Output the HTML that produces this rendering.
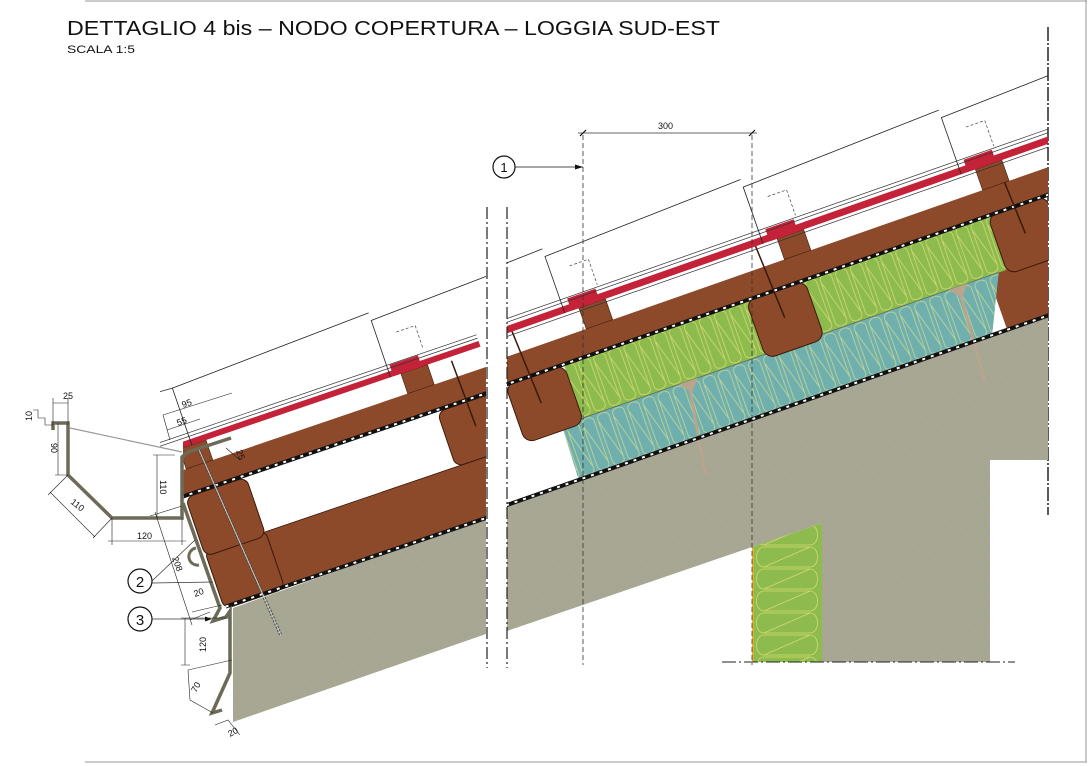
<!DOCTYPE html>
<html><head><meta charset="utf-8"><style>
html,body{margin:0;padding:0;background:#fff;}
svg{display:block;}
text{font-family:"Liberation Sans",sans-serif;fill:#111;}
</style></head><body>
<svg width="1092" height="766" viewBox="0 0 1092 766" xmlns="http://www.w3.org/2000/svg">
<defs>
<pattern id="insT" patternUnits="userSpaceOnUse" width="16" height="57" x="0" y="-57">
<path d="M2,6 C2,0 14,0 14,6 L14,51 C14,57 2,57 2,51 Z M2,8 L14,49" fill="none" stroke="#dede8a" stroke-width="0.8" opacity="0.8"/>
</pattern>
<pattern id="insG" patternUnits="userSpaceOnUse" width="16" height="57" x="0" y="-114">
<path d="M2,6 C2,0 14,0 14,6 L14,51 C14,57 2,57 2,51 Z M2,8 L14,49" fill="none" stroke="#e3e07a" stroke-width="0.8" opacity="0.8"/>
</pattern>
<pattern id="insW" patternUnits="userSpaceOnUse" width="70" height="22" x="752" y="524">
<path d="M12,1 C2,1 2,21 12,21 L58,21 C68,21 68,1 58,1 Z M12,21 L58,1" fill="none" stroke="#d8d870" stroke-width="0.8"/>
</pattern>
<pattern id="hatch" patternUnits="userSpaceOnUse" width="8" height="8" patternTransform="rotate(-35)">
<line x1="0" y1="0" x2="0" y2="8" stroke="#9a998a" stroke-width="0.6"/>
</pattern>
<clipPath id="cr"><rect x="507" y="0" width="541" height="766"/></clipPath>
<clipPath id="cl"><rect x="183" y="0" width="303" height="766"/></clipPath>
<clipPath id="cl2"><rect x="160" y="0" width="326" height="766"/></clipPath>
</defs>

<!-- frame -->
<line x1="85" y1="1" x2="1087" y2="1" stroke="#999" stroke-width="1"/>
<line x1="85" y1="762" x2="1087" y2="762" stroke="#999" stroke-width="1"/>
<line x1="1086" y1="0" x2="1086" y2="762" stroke="#999" stroke-width="1"/>
<line x1="1048" y1="27" x2="1048" y2="515" stroke="#222" stroke-width="1.5" stroke-dasharray="14,2,2,2"/>

<!-- title -->
<text x="67" y="35" font-size="20" textLength="653" lengthAdjust="spacingAndGlyphs">DETTAGLIO 4 bis – NODO COPERTURA – LOGGIA SUD-EST</text>
<text x="67" y="53" font-size="11" textLength="68" lengthAdjust="spacingAndGlyphs">SCALA 1:5</text>

<!-- RIGHT gray mass -->
<polygon points="507,505 1048,316 1048,460 990,460 990,662 822,662 822,523 752,547 507,631" fill="#a7a794"/>
<polygon points="507,505 1048,316 1048,460 990,460 990,662 822,662 822,523 752,547 507,631" fill="url(#hatch)" opacity="0.5"/>
<polygon points="752,547 822,523 822,662 752,662" fill="#8dbb4d"/>
<polygon points="752,547 822,523 822,662 752,662" fill="url(#insW)"/>
<line x1="753" y1="547" x2="753" y2="662" stroke="#e0b030" stroke-width="2"/>
<line x1="722" y1="662" x2="1015" y2="662" stroke="#222" stroke-width="1" stroke-dasharray="14,3,2,3"/>

<!-- RIGHT roof -->
<g clip-path="url(#cr)">
<g transform="translate(507,505) rotate(-19.3)">
<rect x="530" y="-57" width="300" height="57" fill="#8c4a2a"/>
<polygon points="76,0 78,-57 541,-57 514,0" fill="#6fb0ae"/>
<polygon points="76,0 78,-57 541,-57 514,0" fill="url(#insT)"/>
<rect x="100" y="-114" width="460" height="57" fill="#8dbb4d"/>
<rect x="100" y="-114" width="460" height="57" fill="url(#insG)"/>
<line x1="78" y1="-57" x2="541" y2="-57" stroke="#555" stroke-width="0.6"/>
<line x1="212" y1="-55" x2="197" y2="37" stroke="#b9a48e" stroke-width="3"/>
<polygon points="202,-57 222,-57 212,-45" fill="#b9a48e"/>
<line x1="498" y1="-55" x2="492" y2="40" stroke="#b9a48e" stroke-width="3"/>
<polygon points="488,-57 508,-57 498,-45" fill="#b9a48e"/>
<rect x="38" y="-114" width="62" height="62" rx="10" fill="#8c4a2a" stroke="#3a1a0a" stroke-width="1"/>
<rect x="293" y="-114" width="62" height="62" rx="10" fill="#8c4a2a" stroke="#3a1a0a" stroke-width="1"/>
<rect x="549" y="-114" width="62" height="62" rx="10" fill="#8c4a2a" stroke="#3a1a0a" stroke-width="1"/>
<rect x="-100" y="-140" width="900" height="26" fill="#8c4a2a"/>
<line x1="-100" y1="0" x2="800" y2="0" stroke="#111" stroke-width="4"/>
<line x1="-100" y1="0" x2="800" y2="0" stroke="#fff" stroke-width="2" stroke-dasharray="3,6"/>
<line x1="-100" y1="-114" x2="800" y2="-114" stroke="#111" stroke-width="4"/>
<line x1="-100" y1="-114" x2="800" y2="-114" stroke="#fff" stroke-width="2" stroke-dasharray="3,6"/>
<line x1="62" y1="-165" x2="66" y2="-85" stroke="#3a1a0a" stroke-width="1.5"/>
<line x1="320" y1="-165" x2="324" y2="-85" stroke="#3a1a0a" stroke-width="1.5"/>
<line x1="575" y1="-165" x2="579" y2="-85" stroke="#3a1a0a" stroke-width="1.5"/>
<rect x="-77" y="-162" width="28" height="22" fill="#8c4a2a" stroke="#3a1a0a" stroke-width="0.6"/>
<rect x="133" y="-162" width="28" height="22" fill="#8c4a2a" stroke="#3a1a0a" stroke-width="0.6"/>
<rect x="343" y="-162" width="28" height="22" fill="#8c4a2a" stroke="#3a1a0a" stroke-width="0.6"/>
<rect x="553" y="-162" width="28" height="22" fill="#8c4a2a" stroke="#3a1a0a" stroke-width="0.6"/>
<rect x="-100" y="-169" width="900" height="7" fill="#c42238"/>
<rect x="-85" y="-175" width="30" height="13" fill="#c42238"/>
<rect x="125" y="-175" width="30" height="13" fill="#c42238"/>
<rect x="335" y="-175" width="30" height="13" fill="#c42238"/>
<rect x="545" y="-175" width="30" height="13" fill="#c42238"/>
<line x1="-100" y1="-172.5" x2="800" y2="-172.5" stroke="#333" stroke-width="0.7"/>
<line x1="-100" y1="-176" x2="800" y2="-176" stroke="#333" stroke-width="0.7"/>
<line x1="-100" y1="-159" x2="800" y2="-159" stroke="#333" stroke-width="0.7"/>
<g fill="none" stroke="#222" stroke-width="0.8">
<path d="M-92,-162 L-92,-222 L118,-230"/>
<path d="M118,-162 L118,-222 L328,-230"/>
<path d="M328,-162 L328,-222 L538,-230"/>
<path d="M538,-162 L538,-222 L748,-230"/>
</g>
<g fill="none" stroke="#444" stroke-width="0.7" stroke-dasharray="3,2">
<path d="M-72,-205 L-52,-205 L-52,-178"/>
<path d="M138,-205 L158,-205 L158,-178"/>
<path d="M348,-205 L368,-205 L368,-178"/>
<path d="M558,-205 L578,-205 L578,-178"/>
</g>
</g>
</g>

<!-- LEFT gray -->
<polygon points="233,608 486,518 486,634 233,722" fill="#a7a794"/>
<polygon points="233,608 486,518 486,634 233,722" fill="url(#hatch)" opacity="0.5"/>

<!-- LEFT roof -->
<g clip-path="url(#cl)">
<g transform="translate(486,518) rotate(-18.8)">
<rect x="-215" y="-58" width="265" height="58" fill="#8c4a2a" stroke="#3a1a0a" stroke-width="0.8"/>
<rect x="-277" y="-60" width="64" height="62" rx="8" fill="#8c4a2a" stroke="#3a1a0a" stroke-width="1"/>
<rect x="-278" y="-116" width="64" height="62" rx="8" fill="#8c4a2a" stroke="#3a1a0a" stroke-width="1"/>
<rect x="-12" y="-116" width="60" height="58" rx="8" fill="#8c4a2a" stroke="#3a1a0a" stroke-width="1"/>
<rect x="-310" y="-143" width="360" height="25" fill="#8c4a2a"/>
<line x1="-275" y1="0" x2="50" y2="0" stroke="#111" stroke-width="4"/>
<line x1="-275" y1="0" x2="50" y2="0" stroke="#fff" stroke-width="2" stroke-dasharray="3,6"/>
<line x1="-300" y1="-118" x2="50" y2="-118" stroke="#111" stroke-width="4"/>
<line x1="-300" y1="-118" x2="50" y2="-118" stroke="#fff" stroke-width="2" stroke-dasharray="3,6"/>
<rect x="-268" y="-164" width="28" height="21" fill="#8c4a2a" stroke="#3a1a0a" stroke-width="0.6"/>
<rect x="-34" y="-164" width="28" height="21" fill="#8c4a2a" stroke="#3a1a0a" stroke-width="0.6"/>
<rect x="-310" y="-170" width="360" height="6" fill="#c42238"/>
<rect x="-42" y="-176" width="30" height="12" fill="#c42238"/>
<line x1="-250" y1="-160" x2="-232" y2="45" stroke="#444" stroke-width="3" stroke-dasharray="2,1.5"/>
<line x1="-250" y1="-160" x2="-232" y2="45" stroke="#ccc" stroke-width="1"/>
<line x1="18" y1="-160" x2="20" y2="-90" stroke="#3a1a0a" stroke-width="1.5"/>
</g>
</g>
<g clip-path="url(#cl2)">
<g transform="translate(486,518) rotate(-18.8)">
<line x1="-320" y1="-173" x2="50" y2="-173" stroke="#333" stroke-width="0.7"/>
<line x1="-320" y1="-176.5" x2="50" y2="-176.5" stroke="#333" stroke-width="0.7"/>
<g fill="none" stroke="#222" stroke-width="0.8">
<path d="M-255,-164 L-255,-224 L-45,-232"/>
<path d="M-45,-164 L-45,-224 L165,-232"/>
<path d="M-330,-228 L-255,-224"/>
</g>
<path d="M-25,-205 L-5,-205 L-5,-180" fill="none" stroke="#444" stroke-width="0.7" stroke-dasharray="3,2"/>
</g>
</g>

<!-- section break lines -->
<line x1="487" y1="207" x2="487" y2="668" stroke="#222" stroke-width="1.2" stroke-dasharray="12,3,2,3"/>
<line x1="507" y1="207" x2="507" y2="668" stroke="#222" stroke-width="1.2" stroke-dasharray="12,3,2,3"/>

<!-- 300 dim & callout 1 -->
<line x1="583" y1="135" x2="583" y2="665" stroke="#333" stroke-width="0.8" stroke-dasharray="5,3"/>
<line x1="752" y1="135" x2="752" y2="665" stroke="#333" stroke-width="0.8" stroke-dasharray="5,3"/>
<line x1="578" y1="133" x2="757" y2="133" stroke="#333" stroke-width="0.8"/>
<line x1="580" y1="136" x2="586" y2="130" stroke="#111" stroke-width="1.2"/>
<line x1="749" y1="136" x2="755" y2="130" stroke="#111" stroke-width="1.2"/>
<text x="658" y="129" font-size="9">300</text>
<circle cx="504" cy="167" r="11" fill="#fff" stroke="#111" stroke-width="1.2"/>
<text x="504" y="172" font-size="13" text-anchor="middle">1</text>
<line x1="515" y1="167" x2="583" y2="167" stroke="#111" stroke-width="0.8"/>
<polygon points="583,167 575,164.5 575,169.5" fill="#111"/>

<!-- gutter -->
<g fill="none" stroke="#6d6b57" stroke-width="3.5" stroke-linejoin="miter">
<path d="M53,430 L53,423 L68,423 L68,475 L112,518 L182,518 L182,457 L188,452 L231,438"/>
<path d="M183,503 L220,608 L213,621 L226,617 L230,611 L230,673 L212,713 L222,710"/>
</g>
<path d="M196,548 A8,8 0 0 0 199,565" fill="none" stroke="#6d6b57" stroke-width="3"/>
<line x1="70" y1="428" x2="182" y2="452" stroke="#999" stroke-width="1.2"/>

<!-- dims left -->
<g stroke="#222" stroke-width="0.6" fill="none">
<path d="M53,403 L68,403 M53,398 L53,425 M68,398 L68,425"/>
<path d="M38,418 L45,418 L45,425 L53,425 M33,410 L38,410 L38,418"/>
<path d="M58,423 L58,475 M55,475 L68,475"/>
<path d="M157,455 L157,518 M153,455 L175,455"/>
<path d="M112,518 L112,545 M182,518 L182,545 M108,541 L186,541"/>
<path d="M50,492 L95,537 M68,475 L48,495 M112,518 L93,538"/>
<path d="M155,512 L192,625 M182,506 L150,516 M210,612 L190,620"/>
<path d="M163,415 L232,393 M167,430 L200,419 M170,440 L163,415"/>
<path d="M192,612 L222,605 M185,618 L185,665 M181,618 L230,618 M181,665 L190,665"/>
<path d="M188,670 L232,660 M188,670 L190,700 M190,700 L213,713"/>
<path d="M215,725 L228,720 L240,735"/>
<path d="M226,448 L240,460"/>
</g>
<text font-size="9" x="63" y="399">25</text>
<text font-size="9" transform="translate(32,421) rotate(-90)">10</text>
<text font-size="9" transform="translate(51,443) rotate(90)">90</text>
<text font-size="9" transform="translate(160,480) rotate(90)">110</text>
<text font-size="9" transform="translate(70,503) rotate(38)">110</text>
<text font-size="9" x="137" y="539">120</text>
<text font-size="9" transform="translate(183,408) rotate(-20)">95</text>
<text font-size="9" transform="translate(178,426) rotate(-20)">55</text>
<text font-size="9" transform="translate(236,451) rotate(70)">25</text>
<text font-size="9" transform="translate(172,558) rotate(70)">208</text>
<text font-size="9" transform="translate(195,597) rotate(-20)">20</text>
<text font-size="9" transform="translate(206,652) rotate(-90)">120</text>
<text font-size="9" transform="translate(196,693) rotate(-60)">70</text>
<text font-size="9" transform="translate(230,737) rotate(-28)">20</text>

<!-- callouts 2 & 3 -->
<circle cx="140" cy="581" r="12" fill="#fff" stroke="#111" stroke-width="1.2"/>
<text x="140" y="587" font-size="15" text-anchor="middle">2</text>
<line x1="152" y1="581" x2="195" y2="540" stroke="#333" stroke-width="0.7"/>
<line x1="152" y1="583" x2="213" y2="582" stroke="#333" stroke-width="0.7"/>
<circle cx="140" cy="619" r="12" fill="#fff" stroke="#111" stroke-width="1.2"/>
<text x="140" y="625" font-size="15" text-anchor="middle">3</text>
<line x1="152" y1="619" x2="210" y2="619" stroke="#333" stroke-width="0.7"/>
<polygon points="212,619 205,616.5 205,621.5" fill="#111"/>
</svg>
</body></html>
